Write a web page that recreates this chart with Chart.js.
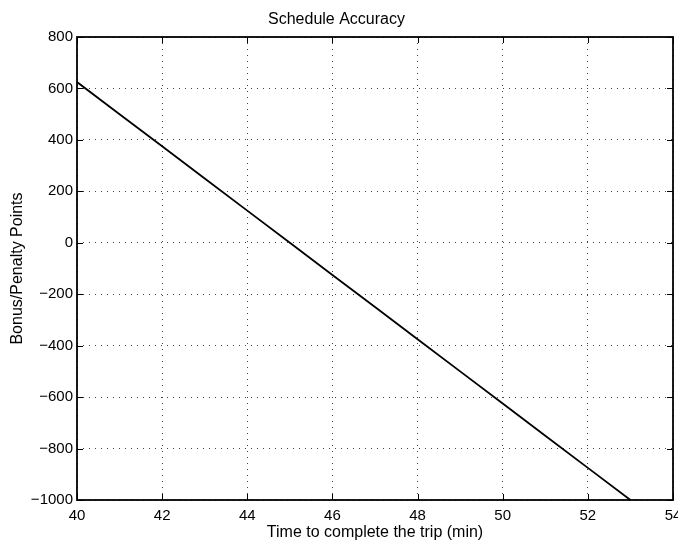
<!DOCTYPE html>
<html>
<head>
<meta charset="utf-8">
<title>Schedule Accuracy</title>
<script src="https://cdn.jsdelivr.net/npm/chart.js@4/dist/chart.umd.min.js"></script>
<style>
  html, body { margin: 0; padding: 0; background: #fff; }
  #wrap { width: 678px; height: 542px; }
</style>
</head>
<body>
<div id="wrap"><canvas id="scheduleChart" width="678" height="542"></canvas></div>
<script>
// Bonus/penalty against trip time
const tripMinutes = [40, 41, 42, 43, 44, 45, 46, 47, 48, 49, 50, 51, 52, 53];
const bonusPoints = [625, 500, 375, 250, 125, 0, -125, -250, -375, -500, -625, -750, -875, -1000];

const xTickValues = [40, 42, 44, 46, 48, 50, 52, 54];
const yTickValues = [-1000, -800, -600, -400, -200, 0, 200, 400, 600, 800];

const FONT = 'Helvetica, "Liberation Sans", Arial, sans-serif';

// minus sign instead of hyphen, no thousands separator
const fmt = v => (v < 0 ? '\u2212' + Math.abs(v) : String(v));

// box round the axes plus short inward ticks on all four sides
const frameTicks = {
    id: 'frameTicks',
    afterDraw(chart) {
        const { ctx, chartArea: a, scales } = chart;
        const len = 6;
        ctx.save();
        ctx.strokeStyle = '#000';
        ctx.lineWidth = 1;
        ctx.beginPath();
        xTickValues.forEach(v => {
            const px = Math.round(scales.x.getPixelForValue(v)) + 0.5;
            ctx.moveTo(px, a.bottom); ctx.lineTo(px, a.bottom - len);
            ctx.moveTo(px, a.top); ctx.lineTo(px, a.top + len);
        });
        yTickValues.forEach(v => {
            const py = Math.round(scales.y.getPixelForValue(v)) + 0.5;
            ctx.moveTo(a.left, py); ctx.lineTo(a.left + len, py);
            ctx.moveTo(a.right, py); ctx.lineTo(a.right - len, py);
        });
        ctx.stroke();
        ctx.lineWidth = 1.8;
        ctx.strokeRect(a.left, a.top, a.right - a.left, a.bottom - a.top);
        ctx.restore();
    }
};

const ctx = document.getElementById('scheduleChart').getContext('2d');
new Chart(ctx, {
    type: 'line',
    data: {
        datasets: [{
            data: tripMinutes.map((t, i) => ({ x: t, y: bonusPoints[i] })),
            borderColor: '#000',
            borderWidth: 1.8,
            pointRadius: 0,
            tension: 0,
            fill: false
        }]
    },
    options: {
        responsive: false,
        animation: false,
        layout: { padding: { left: 0, right: 5, top: 0, bottom: 0 } },
        plugins: {
            legend: { display: false },
            tooltip: { enabled: false },
            title: {
                display: true,
                text: 'Schedule Accuracy',
                color: '#000',
                font: { family: FONT, size: 16, weight: 'normal' },
                padding: { top: 10, bottom: 7.8 }
            }
        },
        scales: {
            x: {
                type: 'linear',
                min: 40,
                max: 54,
                afterBuildTicks: scale => { scale.ticks = xTickValues.map(v => ({ value: v })); },
                afterFit: scale => {
                    scale.height = 42;
                    scale.paddingLeft = 0;
                    scale.paddingRight = 0;
                },
                ticks: {
                    color: '#000',
                    font: { family: FONT, size: 15 },
                    padding: 7,
                    maxRotation: 0,
                    callback: fmt
                },
                grid: { color: '#444', drawTicks: false, lineWidth: 1 },
                border: { display: false, dash: [1, 5] },
                title: {
                    display: true,
                    text: 'Time to complete the trip (min)',
                    color: '#000',
                    font: { family: FONT, size: 16 },
                    padding: { top: 0, bottom: 0 }
                }
            },
            y: {
                type: 'linear',
                min: -1000,
                max: 800,
                afterBuildTicks: scale => { scale.ticks = yTickValues.map(v => ({ value: v })); },
                afterFit: scale => {
                    scale.width = 77;
                    scale.paddingTop = 0;
                    scale.paddingBottom = 0;
                },
                ticks: {
                    color: '#000',
                    font: { family: FONT, size: 15 },
                    padding: 4,
                    callback: fmt
                },
                grid: { color: '#444', drawTicks: false, lineWidth: 1 },
                border: { display: false, dash: [1, 5] },
                title: {
                    display: true,
                    text: 'Bonus/Penalty Points',
                    color: '#000',
                    font: { family: FONT, size: 16 },
                    padding: { top: 8, bottom: 0 }
                }
            }
        }
    },
    plugins: [frameTicks]
});
</script>
</body>
</html>
